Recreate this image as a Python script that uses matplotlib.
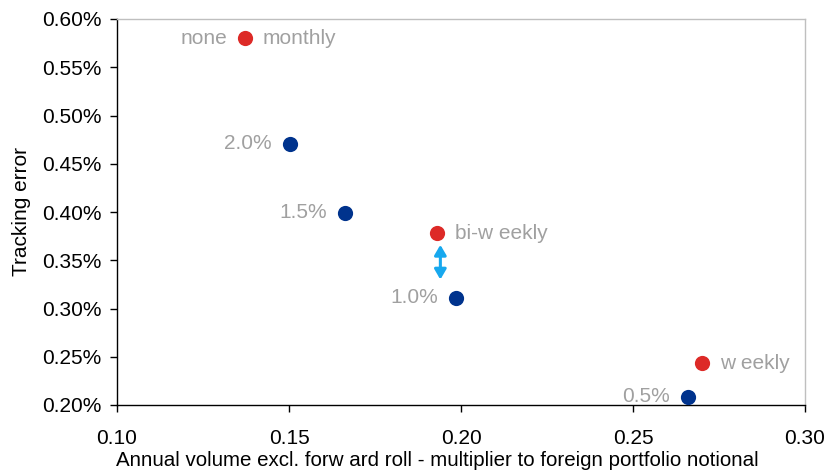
import matplotlib
matplotlib.use("Agg")
import matplotlib.pyplot as plt
from matplotlib.ticker import FuncFormatter

plt.rcParams['font.family'] = ['Liberation Sans', 'DejaVu Sans']

# Rebalancing frequency (red) and threshold (blue) strategies
freq_labels = ["monthly", "bi-w eekly", "w eekly"]
freq_volume = [0.1372, 0.1930, 0.2700]
freq_te = [0.580, 0.378, 0.2435]

thr_labels = ["2.0%", "1.5%", "1.0%", "0.5%"]
thr_volume = [0.1503, 0.1663, 0.1985, 0.2660]
thr_te = [0.4705, 0.399, 0.311, 0.2083]

extra_label = "none"

# Comparison arrow between bi-weekly and 1.0% threshold
arrow_x = 0.194
arrow_y = [0.366, 0.330]

red = "#DD2A27"
blue = "#00338D"
gray = "#A0A0A0"

fig = plt.figure(figsize=(8.27, 4.70), dpi=100)
ax = fig.add_axes([117/827, 1 - 405/470, (805-117)/827, (405-19)/470])

ax.scatter(freq_volume, freq_te, s=120, color=red, zorder=3, linewidths=0)
ax.scatter(thr_volume, thr_te, s=120, color=blue, zorder=3, linewidths=0)

fs = 15
off = 13
for x, y, t in zip(freq_volume, freq_te, freq_labels):
    ax.annotate(t, (x, y), xytext=(off, 0), textcoords="offset points",
                ha="left", va="center", color=gray, fontsize=fs)
ax.annotate(extra_label, (freq_volume[0], freq_te[0]), xytext=(-off, 0),
            textcoords="offset points", ha="right", va="center", color=gray, fontsize=fs)
for x, y, t in zip(thr_volume, thr_te, thr_labels):
    ax.annotate(t, (x, y), xytext=(-off, 0), textcoords="offset points",
                ha="right", va="center", color=gray, fontsize=fs)

ax.annotate("", xy=(arrow_x, arrow_y[0]), xytext=(arrow_x, arrow_y[1]),
            arrowprops=dict(arrowstyle="<|-|>,head_length=0.6,head_width=0.35",
                            color="#17A8EE", lw=2.2,
                            mutation_scale=10, shrinkA=0, shrinkB=0))

ax.set_xlim(0.10, 0.30)
ax.set_ylim(0.20, 0.60)
ax.set_xticks([0.10, 0.15, 0.20, 0.25, 0.30])
ax.set_yticks([0.20, 0.25, 0.30, 0.35, 0.40, 0.45, 0.50, 0.55, 0.60])
ax.xaxis.set_major_formatter(FuncFormatter(lambda v, p: f"{v:.2f}"))
ax.yaxis.set_major_formatter(FuncFormatter(lambda v, p: f"{v:.2f}%"))
ax.tick_params(axis="both", direction="out", length=5, width=1, labelsize=fs,
               colors="black", pad=6)
ax.tick_params(axis="x", pad=12)

for side in ["top", "right"]:
    ax.spines[side].set_color("#BFBFBF")
    ax.spines[side].set_linewidth(1)
for side in ["left", "bottom"]:
    ax.spines[side].set_color("black")
    ax.spines[side].set_linewidth(1)

ax.set_xlabel("Annual volume excl. forw ard roll - multiplier to foreign portfolio notional",
              fontsize=14.8, labelpad=0)
ax.xaxis.set_label_coords(0.465, -0.118)
ax.set_ylabel("Tracking error", fontsize=15, labelpad=8)

fig.savefig("out.png", dpi=100)
